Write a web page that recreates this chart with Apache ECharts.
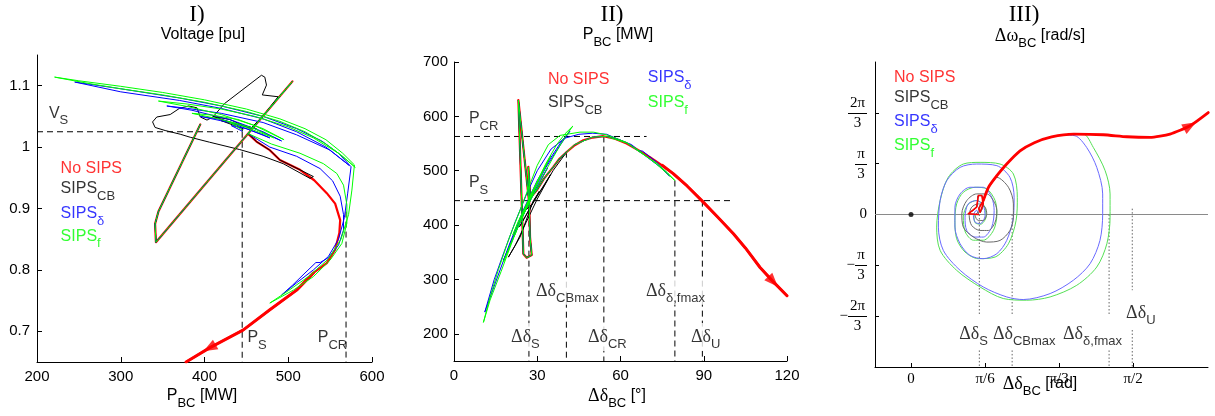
<!DOCTYPE html>
<html><head><meta charset="utf-8">
<script src="https://cdn.jsdelivr.net/npm/echarts@6/dist/echarts.min.js"></script>
<style>html,body{margin:0;padding:0;background:#fff}#c{width:1215px;height:416px}</style>
</head><body><div id="c"></div>
<script>
// ================= DATA =================
// Panel I : P_BC [MW] vs Voltage [pu]
const I_shared = [[395,1.037],[345,0.895],[341,0.875],[342,0.845],[505,1.107],[452,1.022]];
const I_red = [[462,1.009],[478,0.995],[490,0.979],[514,0.963],[531,0.946],[546,0.925],[556,0.908],[562,0.881],[561,0.86],[556,0.833],[546,0.811],[530,0.795],[510,0.767],[478,0.735],[446,0.702],[406,0.673],[378,0.65]];
const I_black = [[462,1.009],[478,0.995],[490,0.979],[514,0.963],[530,0.952],[526,0.949],[494,0.973],[470,0.985],[442,0.996],[406,1.008],[383,1.016],[371,1.021],[353,1.027],[341,1.032],[338,1.041],[343,1.049],[359,1.053],[370,1.063],[381,1.067],[391,1.064],[395,1.049],[403,1.044],[410,1.049],[424,1.071],[468,1.117],[472,1.114],[474,1.101],[469,1.085],[488,1.082],[470,1.051],[455,1.03],[430,1.045],[410,1.05],[436,1.038],[462,1.03],[440,1.037],[420,1.043],[446,1.03],[445,1.026]];
const I_blue = [[478,1.0],[510,0.985],[538,0.965],[553,0.945],[562,0.92],[566,0.89],[566,0.865],[560,0.84],[548,0.82],[538,0.812],[533,0.812],[520,0.795],[505,0.775],[492,0.759],
  [510,0.779],[530,0.8],[548,0.822],[560,0.85],[567,0.885],[571,0.925],[575,0.968],
  [560,0.99],[540,1.01],[510,1.03],[470,1.05],[420,1.067],[370,1.08],[300,1.095],[245,1.106],
  [300,1.09],[370,1.076],[420,1.063],[470,1.046],[510,1.025],[545,1.0],[573,0.97],
  [550,0.995],[510,1.02],[470,1.04],[420,1.055],[380,1.063],[355,1.067],
  [385,1.06],[430,1.045],[470,1.025],[492,1.01],[460,1.03],[420,1.045],[395,1.05],
  [430,1.04],[470,1.02],[478,1.015],[450,1.03],[432,1.035],[445,1.026]];
const I_green = [[480,1.005],[514,0.99],[542,0.973],[558,0.957],[566,0.938],[570,0.906],[570,0.876],[564,0.843],[550,0.816],[530,0.789],[506,0.767],[478,0.746],
  [500,0.766],[525,0.79],[548,0.818],[563,0.85],[572,0.89],[576,0.93],[579,0.971],
  [565,0.99],[545,1.012],[520,1.03],[490,1.046],[450,1.062],[400,1.077],[350,1.089],[300,1.099],[250,1.108],[221,1.114],
  [260,1.104],[300,1.095],[350,1.085],[400,1.073],[450,1.058],[490,1.042],[520,1.025],[545,1.005],[565,0.985],[580,0.967],
  [560,0.99],[530,1.015],[500,1.033],[460,1.05],[420,1.062],[380,1.07],[345,1.075],
  [380,1.066],[420,1.053],[460,1.035],[495,1.012],[470,1.03],[440,1.045],[410,1.052],[385,1.055],
  [420,1.045],[450,1.032],[483,1.015],[460,1.03],[440,1.038],[428,1.042],[445,1.028]];
const I_ref = {PS:445, VS:1.025, PCR:569, VCR:0.895, Pmin:200, Vmin:0.65, VSend:440};

// Panel II : delta_BC [deg] vs P_BC [MW]
const II_shared = [[27,445],[23.2,630],[25,347],[26.2,340],[28,345],[27.4,378],[26.8,507],[27.5,450],[29.8,464],[32.5,486],[35.8,507],[38,522]];
const II_red = [[40.6,534.5],[43.5,547],[46.6,556],[50,561],[53.8,563.5],[58,559],[62.2,550],[66,539],[70.6,525],[75,510],[79,494.6],[84,472],[89.3,445],[95,415],[100.7,384],[105,358],[110.3,322],[115,296],[120,270]];
const II_black = [[40.6,534.5],[35.8,501],[32.2,470],[28.6,445],[23.8,378],[19.6,341],[22,362],[26,405],[30,448],[34.8,493],[31,462],[27,428],[23.6,397],[26,418],[30.7,462],[28,438],[26,428],[27.5,447],[27,445]];
const II_blue = [[43.5,548],[50,562],[55,563],[60,556],[64,548],[66.5,537],[68,536],[70,528],[73,516],[77.7,490],[74,508],[68,531],[62,552],[55,567],[50,569],[45,567],[40,560],[35,540],[30,500],[26,455],[22,405],[18,350],[14.5,300],[11.1,240],[15,295],[20,365],[25,428],[30,482],[35,525],[39,556],[41.8,573],[38,545],[33,505],[28,455],[23,400],[17.8,335],[21,372],[26,430],[30,470],[33.7,505],[29,462],[25,420],[21.9,385],[25,420],[28,452],[30,470],[27,442],[25.3,425],[27,445]];
const II_green = [[43.5,548],[50,562],[55,563],[62.2,551],[67,536],[73,512],[79.6,482],[77,496],[73,514],[67,534],[62.2,552],[55,566],[50.2,571],[45.4,571],[38.2,565],[34,548],[30,510],[27,470],[24,430],[20,378],[16,318],[13,268],[10.6,221],[13,262],[17,315],[21,370],[25,422],[29,470],[33,512],[37,548],[40,568],[42.8,582],[40,562],[36,527],[32,490],[28,450],[24,408],[20,360],[17.8,332],[21,372],[25,420],[29,466],[32,500],[34.8,527],[31,488],[27,446],[23,405],[21.2,382],[24,415],[28,456],[30.4,482],[28,460],[25.5,430],[27,445]];
const II_ref = {PS:445, PCR:563, dS:27, dCB:40.5, dCR:54, dF:79.6, dU:89.5, PCB:535, PF:482, Pmin:150, PCRend:69.4, PSend:99.5};

// Panel III : delta_BC [deg, labelled in rad] vs omega_BC [rad/s]
const III_shared = [[27.3,0],[23.2,0.014],[26.6,0.151],[27.3,0.39],[28.7,0.39],[29.3,0.22],[28,0.047],[27.5,0.12],[29.3,0.29],[31.4,0.56]];
const III_red = [[34.8,0.8],[38.8,1.04],[44.2,1.31],[50,1.48],[57,1.6],[66,1.657],[78,1.643],[87.5,1.602],[96.9,1.588],[105,1.657],[113.1,1.828],[120.5,2.1]];
const III_black = [[34.8,0.766],[39.5,0.561],[41.5,0.219],[41.5,-0.055],[40.1,-0.329],[36.1,-0.534],[30.7,-0.568],[25.3,-0.465],[21.2,-0.26],[20.6,0.014],[22.6,0.287],[26.6,0.424],[30.7,0.424],[33.4,0.287],[34.8,0.082],[34.1,-0.157],[31.4,-0.329],[28,-0.329],[24.6,-0.226],[23.6,-0.021],[24.6,0.151],[27.3,0.219],[30,0.151],[30.7,0.014],[29.3,-0.123],[27.3,-0.123],[26,-0.021],[27.5,0.06],[27.3,0]];
const III_blue = [[34.8,0.8],[38.8,1.04],[44.2,1.31],[50,1.48],[57,1.6],[62,1.635],[66.5,1.622],[71.2,1.382],[75.3,0.971],[77.7,0.424],[77.7,0.014],[76.6,-0.534],[72.6,-1.013],[65.8,-1.355],[56.4,-1.629],[45.5,-1.752],[38.8,-1.698],[29.3,-1.493],[19.9,-1.15],[13.1,-0.739],[11.1,-0.26],[11.8,0.287],[14.5,0.698],[19.9,0.971],[26.6,1.04],[34.8,1.006],[40.1,0.766],[41.8,0.355],[41.5,-0.055],[38.8,-0.534],[34.8,-0.807],[29.3,-0.91],[23.9,-0.842],[19.9,-0.602],[17.8,-0.26],[17.8,0.151],[19.9,0.424],[23.9,0.561],[29.3,0.561],[32.7,0.355],[33.7,0.082],[32.7,-0.26],[29.3,-0.465],[26,-0.465],[22.6,-0.329],[21.9,-0.055],[23.2,0.219],[26.6,0.287],[29.3,0.185],[30,-0.021],[28,-0.191],[26,-0.157],[25.3,-0.02],[26.6,0.09],[27.3,0]];
const III_green = [[34.8,0.8],[38.8,1.04],[44.2,1.31],[50,1.48],[57,1.6],[66,1.657],[69.9,1.657],[73.9,1.382],[78.7,0.903],[80.7,0.424],[80.7,-0.055],[79.4,-0.602],[75.3,-1.082],[67.2,-1.458],[56.4,-1.698],[46.9,-1.766],[37.4,-1.731],[28,-1.493],[18.5,-1.15],[11.8,-0.739],[10.4,-0.26],[11.8,0.287],[15.1,0.766],[21.2,1.04],[28,1.074],[36.1,1.04],[41.5,0.835],[43.1,0.355],[42.6,-0.123],[39.5,-0.602],[34.1,-0.876],[27.3,-0.91],[21.9,-0.773],[18.5,-0.5],[17.8,-0.123],[18.5,0.219],[21.2,0.458],[26,0.561],[30.7,0.527],[34.1,0.287],[34.8,0],[33.4,-0.33],[29.3,-0.53],[25.3,-0.53],[22,-0.36],[21.2,-0.05],[23,0.2],[26.6,0.29],[30,0.15],[30.4,-0.05],[28.2,-0.2],[26,-0.17],[25.5,-0.02],[27.3,0]];
const III_origin = [[0,0]];
const III_ref = {dS:27.7, dCB:41, dF:80.3, dU:89.7};

// Tick labels
const I_xTicks = [200,300,400,500,600];
const I_yTicks = [0.7,0.8,0.9,1,1.1];
const II_xTicks = [0,30,60,90,120];
const II_yTicks = [200,300,400,500,600,700];
const III_xTicks = [0,30,60,90];
const III_xLabels = ['0','π/6','π/3','π/2'];
const III_yTicks = [-2*Math.PI/3,-Math.PI/3,0,Math.PI/3,2*Math.PI/3];
const III_yLabels = ['-2π/3','-π/3','0','π/3','2π/3'];

// Series names (rich text) and annotation texts
const names = ['{m|No SIPS}','{m|SIPS}{s|CB}','{m|SIPS}{s|δ}','{m|SIPS}{s|f}'];
const legendPosI = [[227,0.965],[227,0.932],[227,0.891],[227,0.855]];
const legendPosII = [[33.5,667],[33.5,625],[69.5,671],[69.5,625]];
const legendPosIII = [[-7.3,2.83],[-7.3,2.41],[-7.3,1.91],[-7.3,1.42]];
const annotI = [['{m|V}{s|S}',213,1.055],['{m|P}{s|S}',450,0.689],['{m|P}{s|CR}',534,0.689]];
const annotII = [['{m|P}{s|CR}',5,595],['{m|P}{s|S}',5,478],['{g|Δδ}{s|CBmax}',29.2,279],['{g|Δδ}{s|δ,fmax}',68.8,279],['{g|Δδ}{s|S}',20.2,194],['{g|Δδ}{s|CR}',47.9,194],['{g|Δδ}{s|U}',85,194]];
const annotIII = [['{g|Δδ}{s|S}',19.1,-2.46],['{g|Δδ}{s|CBmax}',32.8,-2.46],['{g|Δδ}{s|δ,fmax}',61.2,-2.46],['{g|Δδ}{s|U}',86.8,-2.03]];

// ================= STYLE / BUILD =================
const SANS = '"Liberation Sans", Arial, sans-serif';
const SERIF = '"Liberation Serif", "Times New Roman", serif';
const COLORS = ['#ff0000','#000000','#0000ff','#00ff00'];
const COLORS3 = ['#ff0000','#6a6a6a','#6a6aff','#55e055'];
const RICH = {
  m:{fontFamily:SANS,fontSize:16,lineHeight:28},
  s:{fontFamily:SANS,fontSize:13,lineHeight:12,verticalAlign:'bottom'},
  g:{fontFamily:SERIF,fontSize:18,lineHeight:28}
};
const series = [];
function line(g, data, color, width, z, extra) {
  series.push(Object.assign({type:'line', xAxisIndex:g, yAxisIndex:g, data:data, showSymbol:false, symbol:'none',
    silent:true, z:z, lineStyle:{color:color, width:width, join:'round', cap:'round'}}, extra||{}));
}
function dashed(g, pts, type, color) {
  series.push({type:'line', xAxisIndex:g, yAxisIndex:g, data:pts, showSymbol:false, symbol:'none', silent:true, z:1,
    lineStyle:{color:color||'#000', width:1, type:type}});
}
function labels(g, items, white) {
  series.push({type:'scatter', xAxisIndex:g, yAxisIndex:g, symbolSize:0, silent:true, z:20,
    label:{show:true, position:'right', distance:0, rich:RICH},
    data: items.map(it => ({value:[it[1],it[2]], label:{formatter:it[0], color:it[3]||'#000',
      backgroundColor: white ? '#fff' : 'transparent', padding:[0,1]}}))});
}
function arrow(id, g, pt) {
  series.push({id:id, type:'scatter', xAxisIndex:g, yAxisIndex:g, symbol:'triangle', symbolSize:[11,14], silent:true, z:15,
    itemStyle:{color:'#ff0000'}, data:[{value:pt}]});
}
// Panel I
const DASH = [6,4];
dashed(0, [[I_ref.Pmin,I_ref.VS],[I_ref.VSend,I_ref.VS]], DASH);
dashed(0, [[I_ref.PS,I_ref.VS],[I_ref.PS,I_ref.Vmin]], DASH);
dashed(0, [[I_ref.PCR,I_ref.VCR],[I_ref.PCR,I_ref.Vmin]], DASH);
line(0, I_shared.concat(I_red), COLORS[0], 2.2, 2);
line(0, I_red.slice(11), COLORS[0], 3, 2);
line(0, I_shared.concat(I_black), COLORS[1], 1, 3);
line(0, I_shared.concat(I_blue), COLORS[2], 1, 4);
line(0, I_shared.concat(I_green), COLORS[3], 1, 5);
arrow('arrI', 0, I_red[15]);
labels(0, annotI);
labels(0, legendPosI.map((p,i)=>[names[i],p[0],p[1],COLORS[i]]));
// Panel II
dashed(1, [[0,II_ref.PCR],[II_ref.PCRend,II_ref.PCR]], DASH);
dashed(1, [[0,II_ref.PS],[II_ref.PSend,II_ref.PS]], DASH);
dashed(1, [[II_ref.dS,II_ref.PS],[II_ref.dS,II_ref.Pmin]], DASH);
dashed(1, [[II_ref.dCB,II_ref.PCB],[II_ref.dCB,II_ref.Pmin]], DASH);
dashed(1, [[II_ref.dCR,II_ref.PCR],[II_ref.dCR,II_ref.Pmin]], DASH);
dashed(1, [[II_ref.dF,II_ref.PF],[II_ref.dF,II_ref.Pmin]], DASH);
dashed(1, [[II_ref.dU,II_ref.PS],[II_ref.dU,II_ref.Pmin]], DASH);
line(1, II_shared.concat(II_red), COLORS[0], 2.2, 2);
line(1, II_red.slice(9), COLORS[0], 3, 2);
line(1, II_shared.concat(II_black), COLORS[1], 1, 3);
line(1, II_shared.concat(II_blue), COLORS[2], 1, 4);
line(1, II_shared.concat(II_green), COLORS[3], 1, 5);
arrow('arrII', 1, II_red[17]);
labels(1, annotII.slice(0,2));
labels(1, annotII.slice(2), true);
labels(1, legendPosII.map((p,i)=>[names[i],p[0],p[1],COLORS[i]]));
// Panel III
const PI = Math.PI;
dashed(2, [[-14.6,0],[120.4,0]], 'solid', '#8a8a8a');
const DOT = [1.5,2];
[III_ref.dS, III_ref.dCB, III_ref.dF].forEach(d => {
  dashed(2, [[d,0],[d,-2.07]], DOT, '#666'); dashed(2, [[d,-2.8],[d,-PI]], DOT, '#666');
});
dashed(2, [[III_ref.dU,0.12],[III_ref.dU,-1.56]], DOT, '#666');
dashed(2, [[III_ref.dU,-2.38],[III_ref.dU,-PI]], DOT, '#666');
line(2, III_shared.concat(III_green), COLORS3[3], 1, 3, {smooth:0.3});
line(2, III_shared.concat(III_blue), COLORS3[2], 1, 4, {smooth:0.3});
line(2, III_shared.concat(III_black), COLORS3[1], 1, 5, {smooth:0.3});
line(2, III_shared.concat(III_red.slice(0,1)), COLORS3[0], 1.6, 6);
line(2, III_shared.slice(-2).concat(III_red), COLORS3[0], 2.8, 6, {smooth:0.2});
series.push({type:'scatter', xAxisIndex:2, yAxisIndex:2, symbolSize:5, silent:true, z:7, itemStyle:{color:'#000'}, data:III_origin});
arrow('arrIII', 2, III_red[10]);
labels(2, annotIII, true);
labels(2, legendPosIII.map((p,i)=>[names[i],p[0],p[1],COLORS[i]]));

// axes
const axBase = (font) => ({type:'value', splitLine:{show:false},
  axisLine:{onZero:false, lineStyle:{color:'#000', width:1}},
  axisTick:{inside:true, length:5, lineStyle:{color:'#000'}},
  axisLabel:{color:'#000', fontFamily:font, fontSize:15, margin:7}});
function ax(font, o) {
  const b = axBase(font);
  for (const k in o) { if (typeof o[k]==='object' && b[k]) b[k]=Object.assign({}, b[k], o[k]); else b[k]=o[k]; }
  return b;
}
const LABEL_MARGIN3 = 8;
const numW = {'2π':19, 'π':12};
const FR = {
  p:{width:11, lineHeight:15},
  b:{lineHeight:5, fontSize:5},
  m:{fontFamily:SERIF, fontSize:15, lineHeight:5, width:11, color:'#000'},
  z:{fontFamily:SERIF, fontSize:15, color:'#000'}
};
Object.keys(numW).forEach((k,i)=>{ FR['n'+i] = {fontFamily:SERIF, fontSize:15, lineHeight:15, width:numW[k], align:'center', color:'#000'}; FR['w'+i] = {width:numW[k], lineHeight:5, fontSize:5}; });
function fracParts(v) {
  let best = 0;
  III_yTicks.forEach((t,i)=>{ if (Math.abs(t-v) < Math.abs(III_yTicks[best]-v)) best = i; });
  const s = III_yLabels[best];
  const neg = s[0] === '-';
  const [num, den] = s.replace('-','').split('/');
  return {s, neg, num, den};
}
function fracLabel(v) {
  const f = fracParts(v);
  if (f.s === '0') return '{z|0}';
  const k = 'n' + Object.keys(numW).indexOf(f.num), w = 'w' + Object.keys(numW).indexOf(f.num);
  return f.neg ? '{p| }{'+k+'|'+f.num+'}\n{m|−}{'+w+'| }\n{p| }{'+k+'|'+f.den+'}'
               : '{'+k+'|'+f.num+'}\n{'+w+'| }\n{'+k+'|'+f.den+'}';
}
const textGraphics = [
    ['I)',197,15,'t'],['{m|Voltage [pu]}',203,35],['{m|P}{s|BC}{m| [MW]}',202,396],
    ['II)',612,15,'t'],['{m|P}{s|BC}{m| [MW]}',618,35],['{g|Δδ}{s|BC}{m| [°]}',617,396],
    ['III)',1024,15,'t'],['{g|Δω}{s|BC}{m| [rad/s]}',1040,36],['{g|Δδ}{s|BC}{m| [rad]}',1040,384]
  ].map(t => ({type:'text', x:t[1], y:t[2], z:50, silent:true,
    style: t[3] ? {text:t[0], fill:'#000', font:'23px '+SERIF, align:'center', verticalAlign:'middle'}
                : {text:t[0], fill:'#000', rich:RICH, align:'center', verticalAlign:'middle'}}));
const GRIDS = [{left:37, top:55, width:335, height:307},{left:454, top:62, width:333, height:299},{left:875, top:62, width:333, height:305}];
const option = {
  animation:false, backgroundColor:'#fff',
  grid:GRIDS,
  xAxis:[
    ax(SANS,{gridIndex:0, min:200, max:600, interval:100}),
    ax(SANS,{gridIndex:1, min:0, max:120, interval:30}),
    ax(SERIF,{gridIndex:2, min:-14.6, max:120.4, axisTick:{customValues:III_xTicks, length:4},
      axisLabel:{customValues:III_xTicks, margin:5, formatter:(v)=>III_xLabels[III_xTicks.indexOf(Math.round(v))] || ''}})
  ],
  yAxis:[
    ax(SANS,{gridIndex:0, min:0.65, max:1.15, axisTick:{customValues:I_yTicks}, axisLabel:{customValues:I_yTicks, formatter:(v)=>String(+v.toFixed(2))}}),
    ax(SANS,{gridIndex:1, min:150, max:700, axisTick:{customValues:II_yTicks}, axisLabel:{customValues:II_yTicks, margin:6}}),
    ax(SERIF,{gridIndex:2, min:-PI, max:PI, axisTick:{customValues:III_yTicks, length:4}, axisLabel:{customValues:III_yTicks, margin:LABEL_MARGIN3, formatter:fracLabel, rich:FR}})
  ],
  graphic: textGraphics,
  series: series
};
const chart = echarts.init(document.getElementById('c'));
chart.setOption(option);
function rot(g, path, k) {
  const a = chart.convertToPixel({gridIndex:g}, path[k-1]);
  const b = chart.convertToPixel({gridIndex:g}, path[k+1]);
  return Math.atan2(-(b[1]-a[1]), b[0]-a[0]) * 180 / Math.PI - 90;
}
// fraction bars of the panel III tick labels, placed through the axis scale
const barRight = GRIDS[2].left - LABEL_MARGIN3;
const bars = III_yTicks.filter(v => fracParts(v).s !== '0').map(v => {
  const py = Math.round(chart.convertToPixel({yAxisIndex:2}, v)) + 0.5;
  const w = numW[fracParts(v).num];
  return {type:'line', z:50, silent:true, shape:{x1:barRight - w, y1:py, x2:barRight, y2:py}, style:{stroke:'#000', lineWidth:1}};
});
chart.setOption({
  graphic: textGraphics.concat(bars),
  series:[
  {id:'arrI', data:[{value:I_red[15], symbolRotate:rot(0,I_red,15)}]},
  {id:'arrII', data:[{value:II_red[17], symbolRotate:rot(1,II_red,17)}]},
  {id:'arrIII', data:[{value:III_red[10], symbolRotate:rot(2,III_red,10)}]}
]});
</script></body></html>
